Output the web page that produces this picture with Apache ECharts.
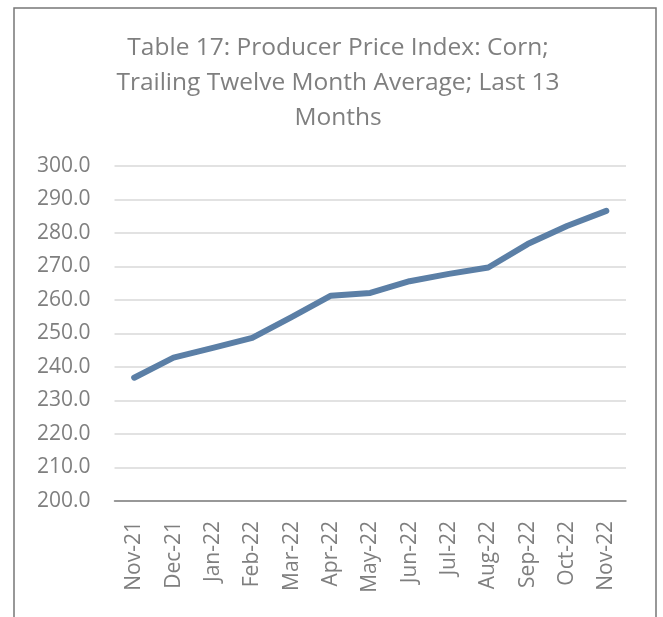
<!DOCTYPE html>
<html>
<head>
<meta charset="utf-8">
<script src="https://cdn.jsdelivr.net/npm/echarts@6/dist/echarts.min.js"></script>
<style>
  html, body { margin: 0; padding: 0; background: #fff; }
  #chart { width: 663px; height: 617px; }
</style>
</head>
<body>
<div id="chart"></div>
<script>
const months = ['Nov-21', 'Dec-21', 'Jan-22', 'Feb-22', 'Mar-22', 'Apr-22', 'May-22',
  'Jun-22', 'Jul-22', 'Aug-22', 'Sep-22', 'Oct-22', 'Nov-22'];
const ppiCorn = [236.8, 242.8, 245.7, 248.7, 254.9, 261.3, 262.1, 265.6, 267.8, 269.7, 276.7, 282.1, 286.6];
const titleText = 'Table 17: Producer Price Index: Corn;\nTrailing Twelve Month Average; Last 13\nMonths';

const chart = echarts.init(document.getElementById('chart'));
const grey = '#7f7f7f';
const font = '"Open Sans", sans-serif';

chart.setOption({
  animation: false,
  title: {
    text: titleText,
    left: 333,
    top: 26,
    textAlign: 'center',
    textStyle: {
      color: grey,
      fontFamily: font,
      fontWeight: 'normal',
      fontSize: 24.5,
      lineHeight: 35
    }
  },
  graphic: [{
    type: 'rect',
    shape: { x: 14, y: 8, width: 642, height: 640 },
    style: { fill: 'none', stroke: '#777', lineWidth: 1.5 },
    silent: true
  }],
  grid: { left: 114.5, right: 37, top: 166, bottom: 116 },
  xAxis: {
    type: 'category',
    data: months,
    boundaryGap: true,
    axisLine: { lineStyle: { color: '#808080', width: 1.5 } },
    axisTick: { show: false },
    axisLabel: {
      rotate: 90,
      margin: 20,
      color: grey,
      fontFamily: font,
      fontSize: 21
    }
  },
  yAxis: {
    type: 'value',
    min: 200,
    max: 300,
    interval: 10,
    axisLine: { show: false },
    axisTick: { show: false },
    splitLine: { lineStyle: { color: '#d9d9d9', width: 1.5 } },
    axisLabel: {
      margin: 24,
      color: grey,
      fontFamily: font,
      fontSize: 21,
      formatter: v => v.toFixed(1)
    }
  },
  series: [{
    type: 'line',
    data: ppiCorn,
    showSymbol: false,
    lineStyle: { color: '#5b7fa6', width: 6, cap: 'round', join: 'round' }
  }]
});
</script>
</body>
</html>
